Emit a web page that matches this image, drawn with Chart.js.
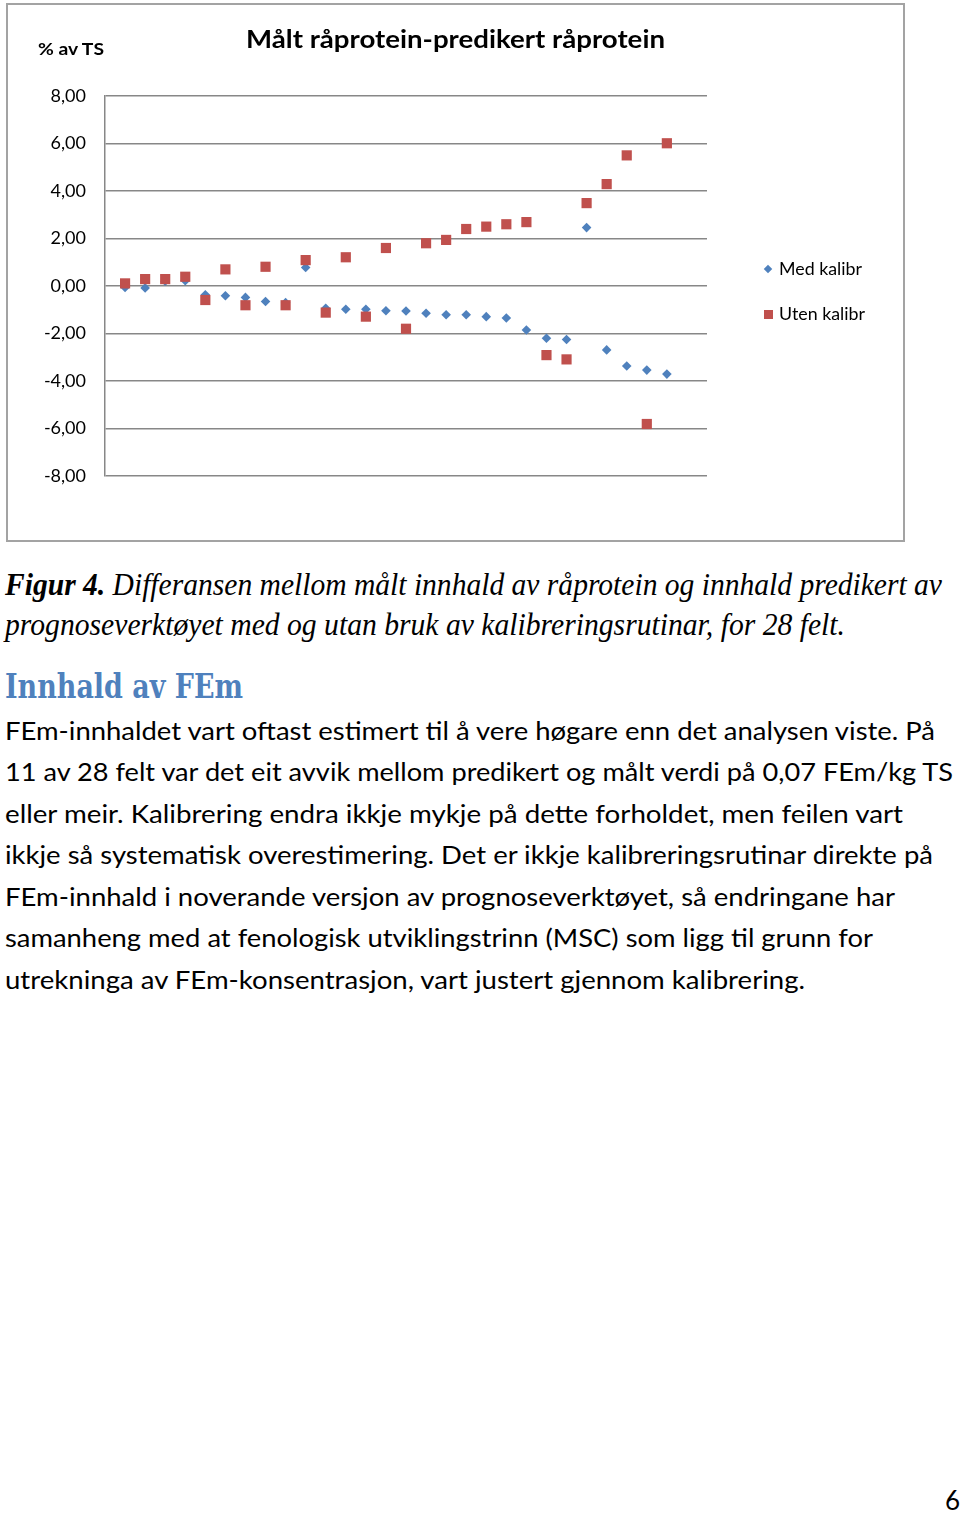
<!DOCTYPE html>
<html lang="no">
<head>
  <meta charset="UTF-8" />
  <title>Målt råprotein-predikert råprotein</title>
  <script src="https://cdn.jsdelivr.net/npm/chart.js"></script>
  <style>
    body {
      margin: 0;
      width: 960px;
      height: 1514px;
      position: relative;
      overflow: hidden;
      background: #fff;
      font-family: Lato, sans-serif;
      color: #000;
    }
    .box {
      position: absolute;
      left: 6px;
      top: 3px;
      width: 895px;
      height: 535px;
      border: 2px solid #a3a3a3;
    }
    #wrap {
      position: absolute;
      left: 0;
      top: 0;
    }
    .t {
      position: absolute;
      white-space: nowrap;
      line-height: 1;
      transform-origin: 0 50%;
    }
    .chart-title { font-weight: 700; font-size: 25px; }
    .unit { font-weight: 700; font-size: 17px; }
    .leg { font-size: 17px; }
    .mark { position: absolute; }
    .caption { font-family: "Liberation Serif", "Times New Roman", serif; font-style: italic; font-size: 31px; }
    .heading { font-family: "DejaVu Serif", "Liberation Serif", serif; font-weight: 700; font-size: 33px; color: #4f81bd; }
    .body { font-size: 25px; }
  </style>
</head>
<body>
  <div class="box"></div>
  <div id="wrap"><canvas id="plot" width="960" height="545"></canvas></div>

  <div class="t unit" style="left:38px; top:40px;" data-w="66">% av TS</div>
  <div class="t chart-title" style="left:246px; top:26px;" data-w="419">Målt råprotein-predikert råprotein</div>

  <div class="mark" style="left:765px; top:266px; width:6px; height:6px; background:#4f81bd; transform:rotate(45deg);"></div>
  <div class="t leg" style="left:779px; top:260px;" data-w="83">Med kalibr</div>
  <div class="mark" style="left:764px; top:310px; width:9px; height:9px; background:#c0504d;"></div>
  <div class="t leg" style="left:779px; top:305px;" data-w="86">Uten kalibr</div>

  <div class="t caption" style="left:5px; top:569px;" data-w="937"><b>Figur 4.</b> Differansen mellom målt innhald av råprotein og innhald predikert av</div>
  <div class="t caption" style="left:5px; top:609px;" data-w="840">prognoseverktøyet med og utan bruk av kalibreringsrutinar, for 28 felt.</div>

  <div class="t heading" style="left:5px; top:670px;" data-w="238">Innhald av FEm</div>

  <div class="t body" style="left:5px; top:718px;" data-w="930">FEm-innhaldet vart oftast estimert til å vere høgare enn det analysen viste. På</div>
  <div class="t body" style="left:5px; top:759px;" data-w="948">11 av 28 felt var det eit avvik mellom predikert og målt verdi på 0,07 FEm/kg TS</div>
  <div class="t body" style="left:5px; top:801px;" data-w="898">eller meir. Kalibrering endra ikkje mykje på dette forholdet, men feilen vart</div>
  <div class="t body" style="left:5px; top:842px;" data-w="928">ikkje så systematisk overestimering. Det er ikkje kalibreringsrutinar direkte på</div>
  <div class="t body" style="left:5px; top:884px;" data-w="890">FEm-innhald i noverande versjon av prognoseverktøyet, så endringane har</div>
  <div class="t body" style="left:5px; top:925px;" data-w="868">samanheng med at fenologisk utviklingstrinn (MSC) som ligg til grunn for</div>
  <div class="t body" style="left:5px; top:967px;" data-w="800">utrekninga av FEm-konsentrasjon, vart justert gjennom kalibrering.</div>

  <div class="t body" style="left:945px; top:1487px; font-size:26px;">6</div>

  <script>
    // felt 1-28, differanse målt - predikert (% av TS)
    const felt = [1, 2, 3, 4, 5, 6, 7, 8, 9, 10, 11, 12, 13, 14, 15, 16, 17, 18, 19, 20, 21, 22, 23, 24, 25, 26, 27, 28];
    const medKalibr = [-0.06, -0.08, 0.2, 0.22, -0.37, -0.41, -0.48, -0.65, -0.7, 0.78,
      -0.94, -0.98, -0.98, -1.04, -1.05, -1.15, -1.21, -1.21, -1.29, -1.35,
      -1.85, -2.2, -2.25, 2.46, -2.69, -3.37, -3.54, -3.71];
    const utenKalibr = [0.11, 0.29, 0.29, 0.39, -0.59, 0.7, -0.81, 0.81, -0.81, 1.09,
      -1.12, 1.21, -1.29, 1.6, -1.8, 1.8, 1.94, 2.4, 2.5, 2.6,
      2.69, -2.91, -3.09, 3.49, 4.29, 5.5, -5.81, 6.01];
    const yTicks = [-8, -6, -4, -2, 0, 2, 4, 6, 8];

    const gridGrey = "#878787";

    new Chart(document.getElementById("plot").getContext("2d"), {
      type: "scatter",
      data: {
        datasets: [
          {
            label: "Med kalibr",
            data: felt.map((x, i) => ({ x, y: medKalibr[i] })),
            pointStyle: "rectRot",
            pointRadius: 4.8,
            backgroundColor: "#4f81bd",
            borderColor: "#4f81bd",
            borderWidth: 0,
            order: 1
          },
          {
            label: "Uten kalibr",
            data: felt.map((x, i) => ({ x, y: utenKalibr[i] })),
            pointStyle: "rect",
            pointRadius: 7.2,
            backgroundColor: "#c0504d",
            borderColor: "#c0504d",
            borderWidth: 0,
            order: 0
          }
        ]
      },
      options: {
        responsive: false,
        animation: false,
        layout: { padding: { left: 0, right: 253, top: 96, bottom: 69 } },
        plugins: { legend: { display: false }, tooltip: { enabled: false } },
        scales: {
          x: { type: "linear", min: 0, max: 30, display: false },
          y: {
            min: yTicks[0],
            max: yTicks[yTicks.length - 1],
            afterFit: (s) => { s.width = 105; },
            afterBuildTicks: (s) => { s.ticks = yTicks.map(v => ({ value: v })); },
            ticks: {
              padding: 19,
              color: "#000",
              font: { family: "Lato", size: 18 },
              callback: (v) => Number(v).toFixed(2).replace(".", ",")
            },
            grid: { color: gridGrey, lineWidth: 1.5, drawTicks: false },
            border: { color: gridGrey, width: 1.5 }
          }
        }
      }
    });

    // stretch each text line to the width it has on the page
    document.querySelectorAll("[data-w]").forEach(el => {
      const w = el.getBoundingClientRect().width;
      el.style.transform = "scaleX(" + (Number(el.dataset.w) / w) + ")";
    });
  </script>
</body>
</html>
